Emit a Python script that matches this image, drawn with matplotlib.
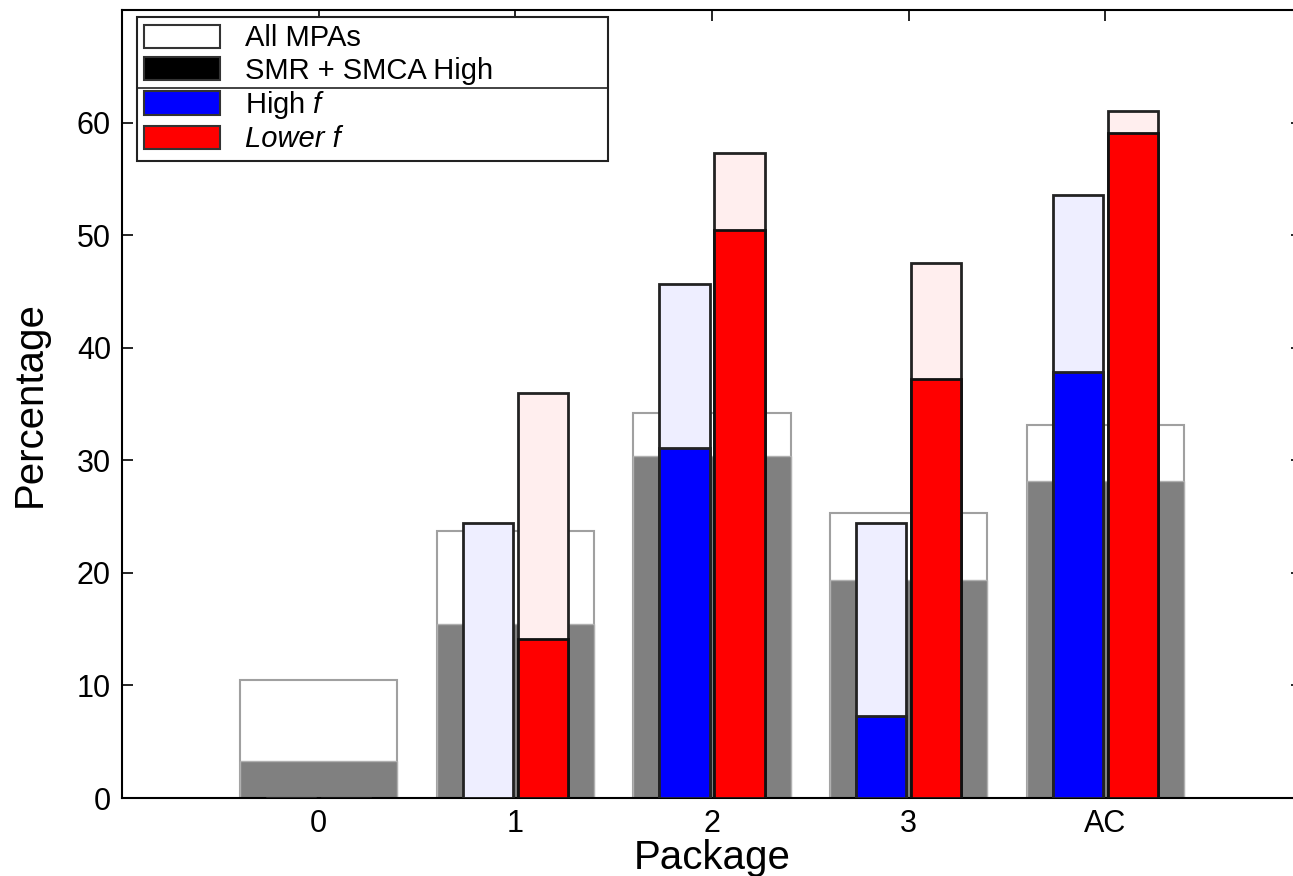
import matplotlib
matplotlib.use("Agg")
import matplotlib.pyplot as plt
from matplotlib.patches import Patch
from matplotlib.lines import Line2D
import numpy as np

plt.rcParams['font.family'] = ['Liberation Sans', 'DejaVu Sans']
plt.rcParams['mathtext.fontset'] = 'custom'
plt.rcParams['mathtext.it'] = 'Liberation Sans:italic'
plt.rcParams['mathtext.rm'] = 'Liberation Sans'

categories = ['0', '1', '2', '3', 'AC']
all_mpas = [10.5, 23.7, 34.2, 25.3, 33.1]
smr_smca_high = [3.3, 15.5, 30.4, 19.4, 28.2]
high_f_total = [0.0, 24.4, 45.7, 24.4, 53.6]
high_f = [0.0, 0.0, 31.1, 7.3, 37.8]
lower_f_total = [0.0, 36.0, 57.3, 47.5, 61.0]
lower_f = [0.0, 14.1, 50.5, 37.2, 59.1]
yticks = [0, 10, 20, 30, 40, 50, 60]

fig = plt.figure(figsize=(12.93, 8.76), dpi=100)
ax = fig.add_axes([122/1293, 78/876, 1180/1293, 788/876])

x = np.arange(len(categories))
wide = 0.8
narrow = 0.255
off = 0.14

ax.bar(x, all_mpas, width=wide, color='white', edgecolor='#a0a0a0', linewidth=1.5, zorder=1)
ax.bar(x, smr_smca_high, width=wide, color='#808080', edgecolor='#b0b0b0', linewidth=1.0, zorder=2)

ax.bar(x - off, high_f_total, width=narrow, color='#eeeeff', edgecolor='#222222', linewidth=2.0, zorder=3)
ax.bar(x - off, high_f, width=narrow, color='#0000ff', edgecolor='#222222', linewidth=2.0, zorder=4)
ax.bar(x + off, lower_f_total, width=narrow, color='#ffeeee', edgecolor='#222222', linewidth=2.0, zorder=3)
ax.bar(x + off, lower_f, width=narrow, color='#ff0000', edgecolor='#111111', linewidth=2.0, zorder=4)

ax.set_xlim(-1, 5)
ax.set_ylim(0, 70)
ax.set_xticks(x)
ax.set_xticklabels(categories)
ax.set_yticks(yticks)
ax.tick_params(direction='in', length=8, width=1.2, top=True, right=True,
               labelsize=22, pad=8)
for s in ax.spines.values():
    s.set_linewidth(1.5)

ax.set_xlabel('Package', fontsize=29, labelpad=0)
ax.set_ylabel('Percentage', fontsize=29, labelpad=20)

handles = [Patch(facecolor='white', edgecolor='#333333', linewidth=1.5),
           Patch(facecolor='black', edgecolor='#333333', linewidth=1.5),
           Patch(facecolor='#0000ff', edgecolor='#333333', linewidth=1.5),
           Patch(facecolor='#ff0000', edgecolor='#333333', linewidth=1.5)]
labels = ['All MPAs', 'SMR + SMCA High', r'High $f$', 'Lower f']
leg = ax.legend(handles, labels, loc='upper left',
                bbox_to_anchor=(15/1180, (798-155)/788, 471/1180, 138/788),
                mode='expand', fontsize=21, frameon=True, fancybox=False,
                edgecolor='#222222', framealpha=1, labelspacing=0.15,
                handlelength=2.6, handleheight=0.85, handletextpad=0.85,
                borderpad=0.25, borderaxespad=0)
leg.get_frame().set_linewidth(1.5)
leg.get_texts()[3].set_fontstyle('italic')
leg.set_zorder(10)

sep = Line2D([15/1180, 486/1180], [(798-88)/788, (798-88)/788],
             transform=ax.transAxes, color='#222222', linewidth=1.2, zorder=11)
ax.add_line(sep)

fig.savefig('out.png', dpi=100)
